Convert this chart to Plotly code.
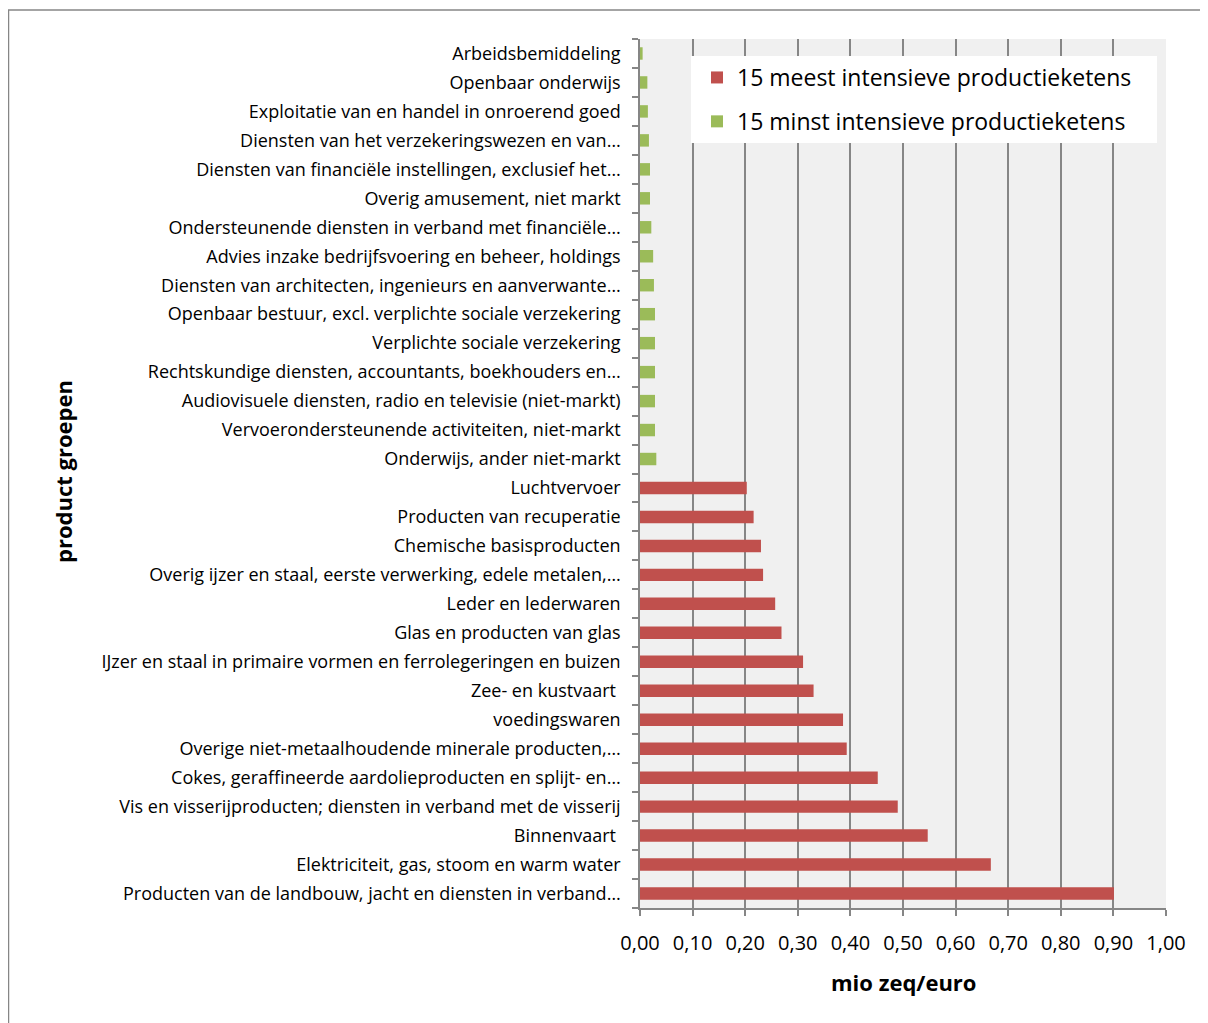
import plotly.graph_objects as go

# categories listed bottom -> top
most_labels = [
    "Producten van de landbouw, jacht en diensten in verband…",
    "Elektriciteit, gas, stoom en warm water",
    "Binnenvaart ",
    "Vis en visserijproducten; diensten in verband met de visserij",
    "Cokes, geraffineerde aardolieproducten en splijt- en…",
    "Overige niet-metaalhoudende minerale producten,…",
    "voedingswaren",
    "Zee- en kustvaart ",
    "IJzer en staal in primaire vormen en ferrolegeringen en buizen",
    "Glas en producten van glas",
    "Leder en lederwaren",
    "Overig ijzer en staal, eerste verwerking, edele metalen,…",
    "Chemische basisproducten",
    "Producten van recuperatie",
    "Luchtvervoer",
]
most_values = [0.901, 0.667, 0.547, 0.490, 0.452, 0.393, 0.386, 0.330, 0.310, 0.269,
               0.257, 0.234, 0.230, 0.216, 0.203]

least_labels = [
    "Onderwijs, ander niet-markt",
    "Vervoerondersteunende activiteiten, niet-markt",
    "Audiovisuele diensten, radio en televisie (niet-markt)",
    "Rechtskundige diensten, accountants, boekhouders en…",
    "Verplichte sociale verzekering",
    "Openbaar bestuur, excl. verplichte sociale verzekering",
    "Diensten van architecten, ingenieurs en aanverwante…",
    "Advies inzake bedrijfsvoering en beheer, holdings",
    "Ondersteunende diensten in verband met financiële…",
    "Overig amusement, niet markt",
    "Diensten van financiële instellingen, exclusief het…",
    "Diensten van het verzekeringswezen en van…",
    "Exploitatie van en handel in onroerend goed",
    "Openbaar onderwijs",
    "Arbeidsbemiddeling",
]
least_values = [0.031, 0.0285, 0.0285, 0.0285, 0.0285, 0.0285, 0.0265, 0.025, 0.0215,
                0.019, 0.019, 0.017, 0.015, 0.014, 0.005]

series_names = ["15 meest intensieve productieketens", "15 minst intensieve productieketens"]
x_ticks = [i / 10 for i in range(11)]

FONT = "Open Sans"
OFF = 8  # browser body margin
W, H = 1208 - OFF, 1023 - OFF
# plot area in page pixels
PX0, PX1, PY0, PY1 = 640, 1166, 39, 908
L, R, T, B = PX0 - OFF, W - (PX1 - OFF), PY0 - OFF, H - (PY1 - OFF)
pw, ph = PX1 - PX0, PY1 - PY0

def px_x(x):
    return (x - PX0) / pw

def px_y(y):
    return (PY1 - y) / ph

fig = go.Figure()
fig.add_trace(go.Bar(y=most_labels, x=most_values, orientation="h", name=series_names[0],
                     marker=dict(color="#C0504D", line=dict(width=0)), width=0.43,
                     legendgroup="a"))
fig.add_trace(go.Bar(y=least_labels, x=least_values, orientation="h", name=series_names[1],
                     marker=dict(color="#9BBB59", line=dict(width=0)), width=0.43,
                     legendgroup="b"))

all_cats = most_labels + least_labels

fig.update_layout(
    width=W, height=H,
    margin=dict(l=L, r=R, t=T, b=B, autoexpand=False),
    barmode="overlay",
    separators=",.",
    paper_bgcolor="white",
    plot_bgcolor="#F0F0F0",
    font=dict(family=FONT, size=18, color="black"),
    showlegend=True,
    legend=dict(
        x=px_x(697), y=px_y(56), xanchor="left", yanchor="top",
        bgcolor="white", borderwidth=0,
        font=dict(family=FONT, size=23, color="black"),
        traceorder="grouped", tracegroupgap=11,
        itemsizing="constant",
    ),
    xaxis=dict(
        range=[0, 1], tickvals=x_ticks, tickformat=".2f",
        showgrid=True, gridcolor="#868686", gridwidth=1.5,
        showline=True, linecolor="#868686", linewidth=1.5,
        ticks="outside", ticklen=6, tickcolor="#868686", tickwidth=1.5,
        tickfont=dict(family=FONT, size=20, color="black"),
        ticklabelstandoff=10,
        zeroline=False, automargin=False, fixedrange=True,
    ),
    yaxis=dict(
        type="category", categoryorder="array", categoryarray=all_cats,
        range=[-0.5, len(all_cats) - 0.5],
        showline=True, linecolor="#868686", linewidth=1.5,
        ticks="outside", ticklen=6, tickcolor="#868686", tickwidth=1.5,
        tickson="boundaries",
        showgrid=False, ticklabelstandoff=14,
        tickfont=dict(family=FONT, size=18, color="black"),
        automargin=False, fixedrange=True,
    ),
    annotations=[
        dict(text="<b>product groepen</b>", xref="paper", yref="paper",
             x=px_x(63), y=px_y(472), textangle=-90, showarrow=False,
             xanchor="center", yanchor="middle",
             font=dict(family=FONT, size=22, color="black")),
        dict(text="<b>mio zeq/euro</b>", xref="paper", yref="paper",
             x=px_x(903), y=px_y(982), showarrow=False,
             xanchor="center", yanchor="middle",
             font=dict(family=FONT, size=22, color="black")),
    ],
    shapes=[
        dict(type="rect", xref="paper", yref="paper",
             x0=px_x(8.5), x1=px_x(1240), y0=px_y(10), y1=px_y(1050),
             line=dict(color="#868686", width=1.5), fillcolor="rgba(0,0,0,0)",
             layer="below"),
        # white legend panel (legend box)
        dict(type="rect", xref="paper", yref="paper",
             x0=px_x(691), x1=px_x(1157), y0=px_y(143), y1=px_y(56),
             line=dict(width=0), fillcolor="white", layer="above"),
    ],
)

fig.write_html("out.html")
